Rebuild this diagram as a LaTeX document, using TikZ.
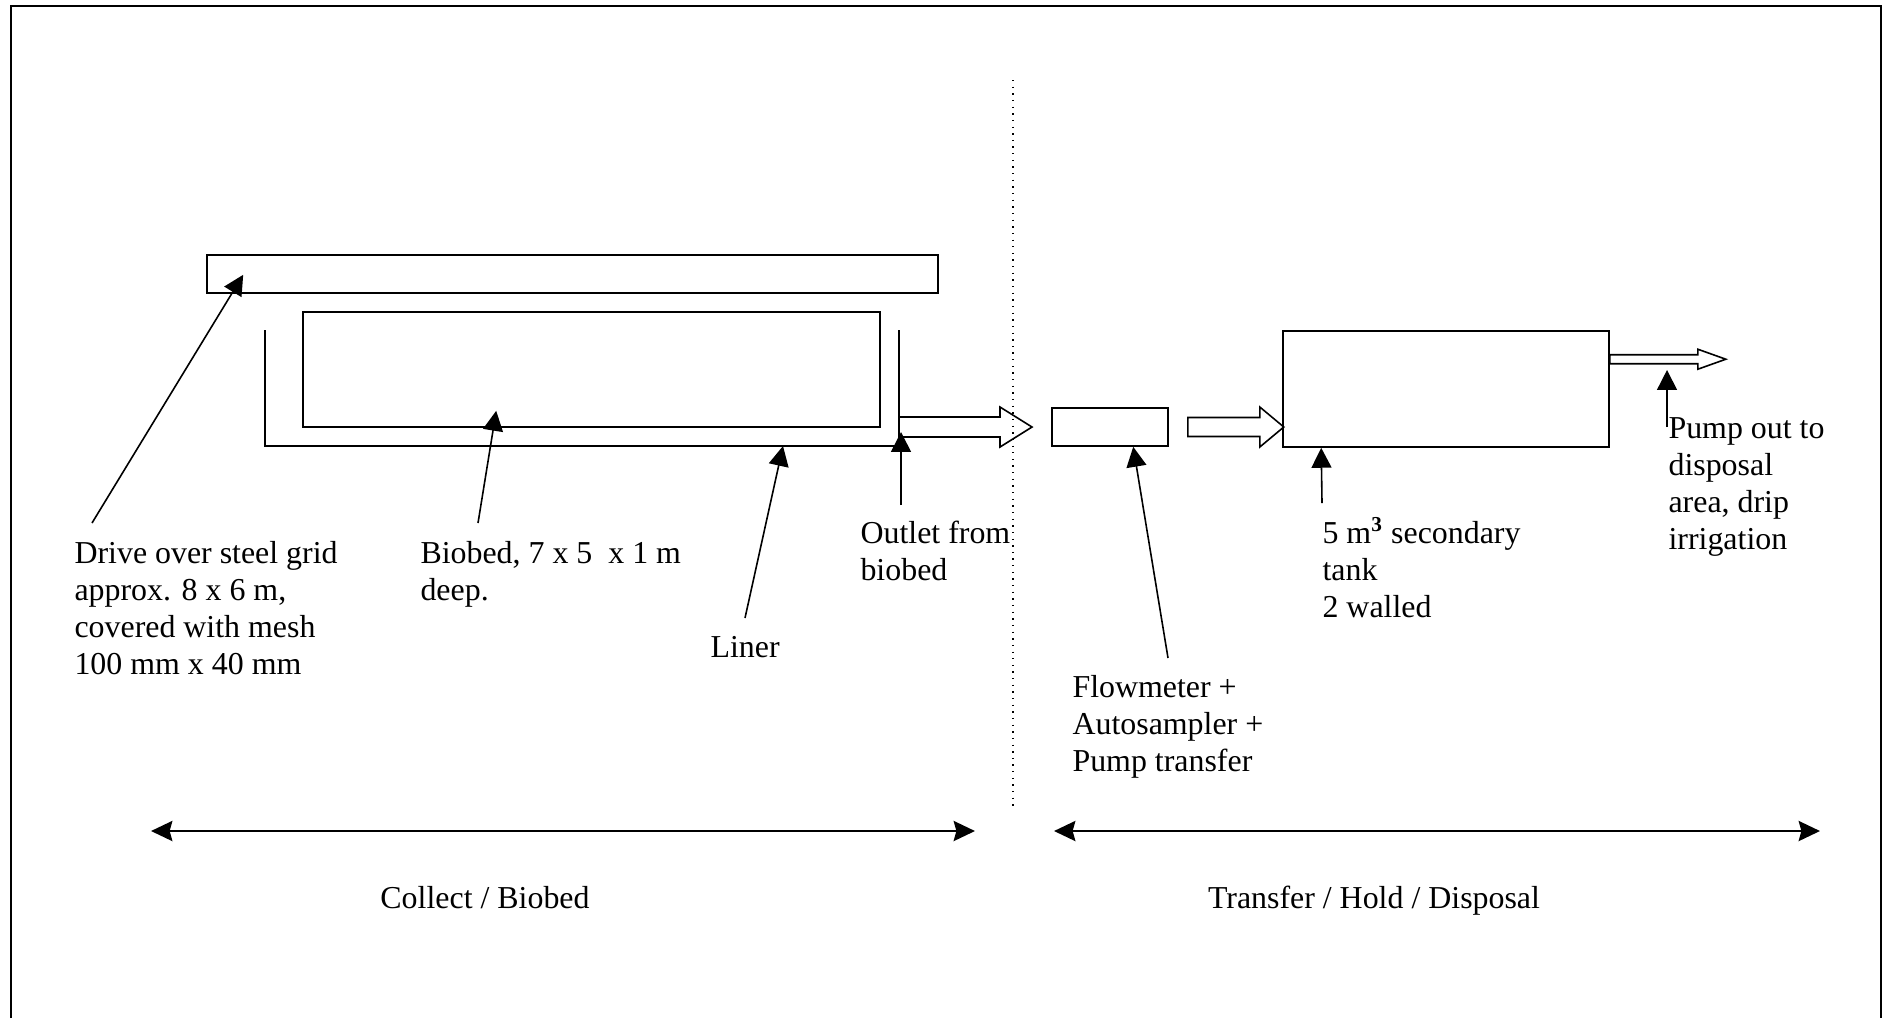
\documentclass[tikz,border=0pt]{standalone}
\usepackage{fontspec}
\setmainfont{Liberation Serif}
\usetikzlibrary{arrows.meta, calc}
\newcommand{\pxl}{0.3762pt}

\begin{document}
\begin{tikzpicture}[
  x=0.3762pt, y=-0.3762pt,
  box/.style={rectangle, draw, line width=0.6pt, inner sep=0pt},
  lbl/.style={anchor=base west, inner sep=0pt, align=left, font=\fontsize{12}{13.9}\selectfont},
  caption/.style={anchor=base, inner sep=0pt, font=\fontsize{12}{13.9}\selectfont},
  callout/.style={-{Triangle[length=7.5pt,width=7.5pt]}, line width=0.6pt},
  hollow/.style={draw, line width=0.6pt, line join=miter},
  span/.style={{Stealth[length=8pt,width=7.5pt,inset=1pt]}-{Stealth[length=8pt,width=7.5pt,inset=1pt]}, line width=1.1pt}
]
\useasboundingbox (0,0) rectangle (1886,1018);

% outer frame, open at the bottom
\draw[line width=1pt] (11,1018) -- (11,6) -- (1881,6) -- (1881,1018);

% collect side
\node[box, minimum width=731*\pxl, minimum height=38*\pxl] (grid)   at (572.5,274) {};
\node[box, minimum width=577*\pxl, minimum height=115*\pxl] (biobed) at (591.5,369.5) {};
\coordinate (linerNW) at (265,330);
\coordinate (linerNE) at (899,330);
\draw[line width=0.6pt] (linerNW) -- (linerNW |- 0,446) -- (linerNE |- 0,446) -- (linerNE);

% transfer / hold side
\node[box, minimum width=116*\pxl, minimum height=38*\pxl]  (flow) at (1110,427) {};
\node[box, minimum width=326*\pxl, minimum height=116*\pxl] (tank) at (1446,389) {};

% divider
\coordinate (divtop) at (1013,80);
\coordinate (divbot) at (1013,808);
\draw[dotted, line width=0.5pt] (divtop) -- (divbot);

% hollow flow arrows
\coordinate (outA) at (899,427);
\draw[hollow] (outA) -- ++(0,-10) -- ++(101,0) -- ++(0,-10) -- ++(32,20)
  -- ++(-32,20) -- ++(0,-10) -- ++(-101,0) -- cycle;
\coordinate (outB) at ($(flow.east)+(19,0)$);
\draw[hollow] (outB) -- ++(0,-9.5) -- ++(72,0) -- ++(0,-10.5) -- ++(24,20)
  -- ++(-24,20) -- ++(0,-10.5) -- ++(-72,0) -- cycle;
\coordinate (outC) at ($(tank.north east)+(0,29)$);
\draw[hollow] (outC) -- ++(0,-4.5) -- ++(88,0) -- ++(0,-5.5) -- ++(28,10)
  -- ++(-28,10) -- ++(0,-5.5) -- ++(-88,0) -- cycle;

% labels (placed at the baseline of their last line)
\node[lbl] (drive)  at (74,674)   {Drive over steel grid\\approx. 8 x 6 m,\\covered with mesh\\100 mm x 40 mm};
\node[lbl] (bedlbl) at (420,600)  {Biobed, 7 x 5\ \ x 1 m\\deep.};
\node[lbl] (liner)  at (710,657)  {Liner};
\node[lbl] (outlet) at (860,580)  {Outlet from\\biobed};
\node[lbl] (flowlbl) at (1072,771) {Flowmeter +\\Autosampler +\\Pump transfer};
\node[lbl] (tanklbl) at (1322,617) {5 m\textsuperscript{\textbf{3}} secondary\\tank\\2 walled};
\node[lbl] (pump)   at (1668,549) {Pump out to\\disposal\\area, drip\\irrigation};

% callouts
\draw[callout] (92,523)   -- ($(grid.south west)+(37,-19)$);
\draw[callout] (478,523)  -- ($(biobed.south west)+(194,-17)$);
\draw[callout] (745,618)  -- (783,446);
\draw[callout] (901,505)  -- (901,432);
\draw[callout] (1168,658) -- ($(flow.south west)+(82,0)$);
\draw[callout] (1322,503) -- ($(tank.south west)+(39,0)$);
\draw[callout] (1667,427) -- (1667,370);

% stage spans
\coordinate (colL) at (151,831);
\coordinate (colR) at (975,831);
\coordinate (trL)  at (1054,831);
\coordinate (trR)  at (1820,831);
\draw[span] (colL) -- (colR);
\draw[span] (trL) -- (trR);
\node[caption] (collect)  at (485,908)  {Collect / Biobed};
\node[caption] (transfer) at (1374,908) {Transfer / Hold / Disposal};
\end{tikzpicture}
\end{document}
